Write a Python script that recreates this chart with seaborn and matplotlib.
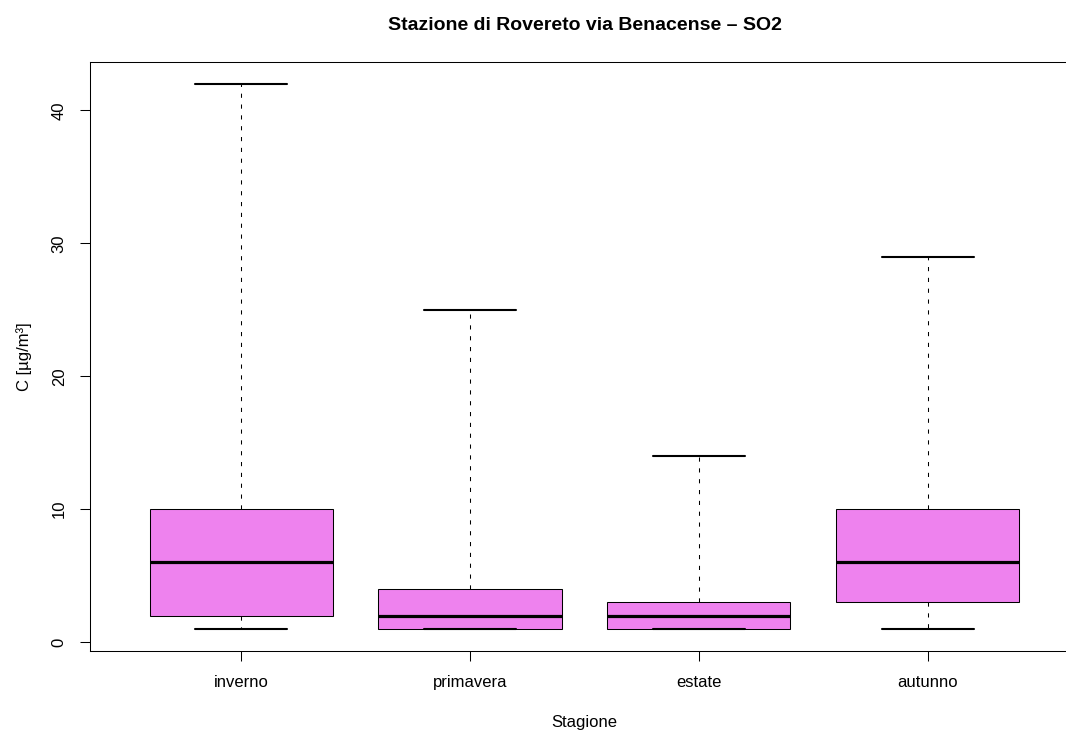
import numpy as np
import pandas as pd
import matplotlib
matplotlib.use("Agg")
import matplotlib.pyplot as plt
import seaborn as sns

# five-number summaries (min, q1, median, q3, max)
stagioni = ["inverno", "primavera", "estate", "autunno"]
inverno = [1, 2, 6, 10, 42]
primavera = [1, 1, 2, 4, 25]
estate = [1, 1, 2, 3, 14]
autunno = [1, 3, 6, 10, 29]

df = pd.DataFrame({
    "stagione": np.repeat(stagioni, 5),
    "conc": inverno + primavera + estate + autunno,
})

sns.set_style("ticks")
plt.rcParams["font.family"] = ["Liberation Sans", "DejaVu Sans"]
plt.rcParams["lines.scale_dashes"] = False
plt.rcParams["text.color"] = "black"
plt.rcParams["axes.labelcolor"] = "black"

fig = plt.figure(figsize=(10.66, 7.31), dpi=100)
# plot region runs past the right edge like the (cropped) original
ax = fig.add_axes([90 / 1066, (731 - 650.7) / 731, 988.9 / 1066, 588.7 / 731])

sns.boxplot(data=df, x="stagione", y="conc", order=stagioni, ax=ax,
            color="violet", saturation=1, width=0.8, whis=np.inf,
            linecolor="black", linewidth=0.75,
            medianprops=dict(color="black", linewidth=2.3),
            whiskerprops=dict(linestyle=(0, (3, 4.8)), linewidth=0.75),
            capprops=dict(linewidth=1.5))

ax.set_xlim(-0.66, 3.66)
ax.set_ylim(-0.64, 43.64)
ax.set_yticks([0, 10, 20, 30, 40])
ax.tick_params(axis="both", direction="out", length=7.2, width=0.75,
               labelsize=12, colors="black")
ax.tick_params(axis="x", pad=10)
ax.tick_params(axis="y", pad=9.5)
for lab in ax.get_yticklabels():
    lab.set_rotation(90)
    lab.set_va("center")

for sp in ax.spines.values():
    sp.set_color("black")
    sp.set_linewidth(0.75)

ax.set_xlabel("Stagione", fontsize=12, labelpad=18)
ax.set_ylabel("C [µg/m³]", fontsize=12, labelpad=14)
ax.set_title("Stazione di Rovereto via Benacense – SO2",
             fontsize=14, fontweight="bold", pad=23)

fig.savefig("out.png", dpi=100)
